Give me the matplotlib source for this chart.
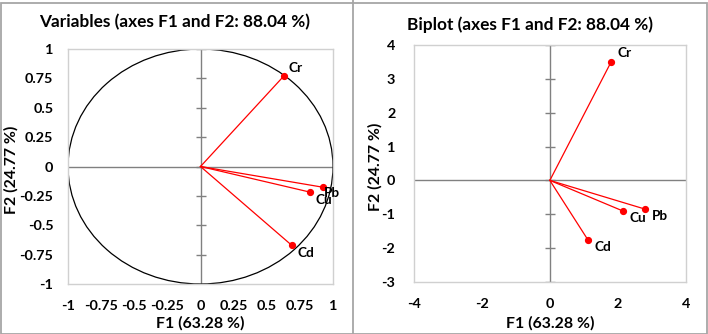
import matplotlib
matplotlib.use("Agg")
import matplotlib.pyplot as plt
from matplotlib.patches import Ellipse, Rectangle
from matplotlib.lines import Line2D
import numpy as np

# ---- data ----
variables = ["Cr", "Pb", "Cu", "Cd"]
var_f1 = [0.632, 0.922, 0.826, 0.690]
var_f2 = [0.774, -0.176, -0.218, -0.672]

biplot_f1 = [1.81, 2.80, 2.16, 1.12]
biplot_f2 = [3.52, -0.85, -0.91, -1.76]

left_ticks = [-1, -0.75, -0.5, -0.25, 0, 0.25, 0.5, 0.75, 1]
left_tick_labels = ["-1", "-0.75", "-0.5", "-0.25", "0", "0.25", "0.5", "0.75", "1"]
right_xticks = [-4, -2, 0, 2, 4]
right_yticks = [-3, -2, -1, 0, 1, 2, 3, 4]

title_left = "Variables (axes F1 and F2: 88.04 %)"
title_right = "Biplot (axes F1 and F2: 88.04 %)"
xlabel = "F1 (63.28 %)"
ylabel = "F2 (24.77 %)"

# label offsets in pixels (dx, dy), dy positive = up
left_offsets = {"Cr": (4, 8), "Pb": (1, -6), "Cu": (6, -8), "Cd": (6, -8)}
right_offsets = {"Cr": (6, 9), "Pb": (7, -7), "Cu": (6, -7), "Cd": (7, -7)}

plt.rcParams['font.family'] = ['Lato', 'DejaVu Sans']
plt.rcParams['font.weight'] = 'bold'
plt.rcParams['axes.unicode_minus'] = False

W, H = 708, 334
fig = plt.figure(figsize=(W / 100, H / 100), dpi=100)
fig.patch.set_facecolor("white")

RED = "#ff0000"
GRID = "#808080"
SPINE = "#d0d0d0"
TICKFS = 10.4
LABFS = 9.8
TITLEFS = 12.4
AXLABFS = 11.4

def style_axes(ax):
    for s in ax.spines.values():
        s.set_color(SPINE)
        s.set_linewidth(1.0)
    ax.tick_params(axis='both', length=0, labelsize=TICKFS)
    for lab in ax.get_xticklabels() + ax.get_yticklabels():
        lab.set_fontweight('bold')

# ---- left panel ----
axL = fig.add_axes([68 / W, 1 - 284 / H, (333 - 68) / W, (284 - 49) / H])
axL.set_xlim(-1, 1)
axL.set_ylim(-1, 1)
axL.axhline(0, color=GRID, lw=1.0, zorder=1)
axL.axvline(0, color=GRID, lw=1.0, zorder=1)
axL.plot(np.zeros(len(left_ticks)), left_ticks, linestyle='none', marker='_',
         markersize=7, markeredgewidth=1.0, color=GRID, zorder=1)
axL.add_patch(Ellipse((0, 0), 2, 2, fill=False, edgecolor='black', lw=0.9, zorder=2))
for name, x, y in zip(variables, var_f1, var_f2):
    axL.plot([0, x], [0, y], color=RED, lw=0.9, zorder=3)
    axL.plot(x, y, 'o', color=RED, markersize=4.2, zorder=4)
    dx, dy = left_offsets[name]
    axL.annotate(name, (x, y), xytext=(dx, dy), textcoords='offset pixels',
                 ha='left', va='center', fontsize=LABFS, fontweight='bold', zorder=5)
axL.set_xticks(left_ticks)
axL.set_xticklabels(left_tick_labels)
axL.set_yticks(left_ticks)
axL.set_yticklabels(left_tick_labels)
style_axes(axL)
axL.tick_params(axis='y', pad=10.5)
axL.tick_params(axis='x', pad=11.5)

# ---- right panel ----
axR = fig.add_axes([414 / W, 1 - 281.7 / H, (685.7 - 414) / W, (281.7 - 45.3) / H])
axR.set_xlim(-4, 4)
axR.set_ylim(-3, 4)
axR.axhline(0, color=GRID, lw=1.0, zorder=1)
axR.axvline(0, color=GRID, lw=1.0, zorder=1)
axR.plot(np.zeros(len(right_yticks)), right_yticks, linestyle='none', marker='_',
         markersize=7, markeredgewidth=1.0, color=GRID, zorder=1)
for name, x, y in zip(variables, biplot_f1, biplot_f2):
    axR.plot([0, x], [0, y], color=RED, lw=0.9, zorder=3)
    axR.plot(x, y, 'o', color=RED, markersize=4.2, zorder=4)
    dx, dy = right_offsets[name]
    axR.annotate(name, (x, y), xytext=(dx, dy), textcoords='offset pixels',
                 ha='left', va='center', fontsize=LABFS, fontweight='bold', zorder=5)
axR.set_xticks(right_xticks)
axR.set_yticks(right_yticks)
style_axes(axR)
axR.tick_params(axis='y', pad=13.5)
axR.tick_params(axis='x', pad=11.5)

# ---- titles and axis labels ----
fig.text(175 / W, 1 - 22 / H, title_left, ha='center', va='center', fontsize=TITLEFS, fontweight='bold')
fig.text(530 / W, 1 - 25 / H, title_right, ha='center', va='center', fontsize=TITLEFS, fontweight='bold')
fig.text(200.5 / W, 1 - 323 / H, xlabel, ha='center', va='center', fontsize=AXLABFS, fontweight='bold')
fig.text(550 / W, 1 - 323 / H, xlabel, ha='center', va='center', fontsize=AXLABFS, fontweight='bold')
fig.text(11 / W, 1 - 170 / H, ylabel, ha='center', va='center', rotation=90, fontsize=AXLABFS, fontweight='bold')
fig.text(375 / W, 1 - 167 / H, ylabel, ha='center', va='center', rotation=90, fontsize=AXLABFS, fontweight='bold')

# ---- panel borders ----
fig.add_artist(Rectangle((0.5 / W, 0.5 / H), (W - 1.5) / W, (H - 3) / H, transform=fig.transFigure,
                         fill=False, edgecolor="#a6a6a6", lw=1.3))
fig.add_artist(Line2D([352.5 / W, 352.5 / W], [0, 1], transform=fig.transFigure,
                      color="#a6a6a6", lw=1.3))

fig.savefig("out.png", dpi=100)
